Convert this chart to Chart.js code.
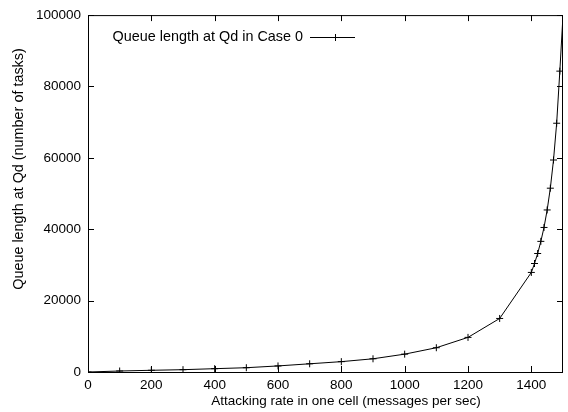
<!DOCTYPE html>
<html>
<head>
<meta charset="utf-8">
<script src="https://cdn.jsdelivr.net/npm/chart.js@4.4.1/dist/chart.umd.min.js"></script>
<style>
  html, body { margin: 0; padding: 0; background: #fff; }
  #wrap { width: 568px; height: 412px; position: relative; }
</style>
</head>
<body>
<div id="wrap"><canvas id="myChart"></canvas></div>
<script>
// data
const rates = [0, 100, 200, 300, 400, 500, 600, 700, 800, 900, 1000, 1100, 1200, 1300,
  1400, 1410, 1420, 1430, 1440, 1450, 1460, 1470, 1480, 1490, 1500];
const queueLen = [0, 280, 480, 650, 930, 1200, 1700, 2300, 2900, 3700, 5000, 6800, 9700, 15000,
  27900, 30400, 33200, 36600, 40500, 45400, 51500, 59400, 69700, 84300, 100000];
const xTicks = [0, 200, 400, 600, 800, 1000, 1200, 1400];
const yTicks = [0, 20000, 40000, 60000, 80000, 100000];
const seriesLabel = 'Queue length at Qd in Case 0';
const xTitle = 'Attacking rate in one cell (messages per sec)';
const yTitle = 'Queue length at Qd (number of tasks)';

const FONT = '"Liberation Sans", Arial, sans-serif';

// gnuplot style: frame + inward ticks on all four sides, legend inside top left
const framePlugin = {
  id: 'frame',
  afterDraw(chart) {
    const { ctx, chartArea: a, scales } = chart;
    const len = 6;
    ctx.save();
    ctx.strokeStyle = '#000';
    ctx.lineWidth = 1;
    ctx.strokeRect(a.left + 0.5, a.top + 0.5, a.right - a.left - 1, a.bottom - a.top);
    ctx.beginPath();
    scales.x.ticks.forEach(t => {
      const px = Math.round(scales.x.getPixelForValue(t.value)) + 0.5;
      ctx.moveTo(px, a.bottom); ctx.lineTo(px, a.bottom - len);
      ctx.moveTo(px, a.top); ctx.lineTo(px, a.top + len);
    });
    scales.y.ticks.forEach(t => {
      const py = Math.round(scales.y.getPixelForValue(t.value)) + 0.5;
      ctx.moveTo(a.left, py); ctx.lineTo(a.left + len, py);
      ctx.moveTo(a.right, py); ctx.lineTo(a.right - len, py);
    });
    ctx.stroke();

    ctx.fillStyle = '#000';
    ctx.textBaseline = 'middle';

    // legend
    const ly = 37.5;
    ctx.font = '14.4px ' + FONT;
    ctx.textAlign = 'right';
    ctx.fillText(seriesLabel, 303, ly);
    ctx.beginPath();
    ctx.moveTo(310, ly); ctx.lineTo(355, ly);
    ctx.moveTo(335.5, ly - 3.5); ctx.lineTo(335.5, ly + 3.5);
    ctx.stroke();

    // axis titles
    ctx.textAlign = 'center';
    ctx.font = '13.5px ' + FONT;
    ctx.fillText(xTitle, 346, 401);
    ctx.translate(19.5, 169);
    ctx.rotate(-Math.PI / 2);
    ctx.font = '14.4px ' + FONT;
    ctx.fillText(yTitle, 0, 0);
    ctx.restore();
  }
};

const ctx = document.getElementById('myChart').getContext('2d');
new Chart(ctx, {
  type: 'line',
  data: {
    labels: rates,
    datasets: [{
      label: seriesLabel,
      data: rates.map((r, i) => ({ x: r, y: queueLen[i] })),
      borderColor: '#000',
      backgroundColor: '#000',
      borderWidth: 1,
      pointStyle: 'cross',
      pointRadius: 3.5,
      pointBorderWidth: 1,
      fill: false,
      tension: 0
    }]
  },
  options: {
    responsive: true,
    maintainAspectRatio: false,
    animation: false,
    devicePixelRatio: 1,
    layout: { padding: { top: 15, right: 2, left: 0, bottom: 0 } },
    plugins: { legend: { display: false }, tooltip: { enabled: false } },
    scales: {
      x: {
        type: 'linear',
        min: 0,
        max: 1500,
        afterBuildTicks(s) { s.ticks = xTicks.map(v => ({ value: v })); },
        ticks: {
          color: '#000',
          font: { family: FONT, size: 13.5 },
          padding: 5,
          maxRotation: 0,
          autoSkip: false,
          callback: v => String(v)
        },
        grid: { display: false, drawTicks: false },
        border: { display: false },
        afterFit(s) { s.height = 40; }
      },
      y: {
        min: 0,
        max: 100000,
        afterBuildTicks(s) { s.ticks = yTicks.map(v => ({ value: v })); },
        ticks: {
          color: '#000',
          font: { family: FONT, size: 13.5 },
          padding: 7,
          autoSkip: false,
          callback: v => String(v)
        },
        grid: { display: false, drawTicks: false },
        border: { display: false },
        afterFit(s) { s.width = 88; }
      }
    }
  },
  plugins: [framePlugin]
});
</script>
</body>
</html>
